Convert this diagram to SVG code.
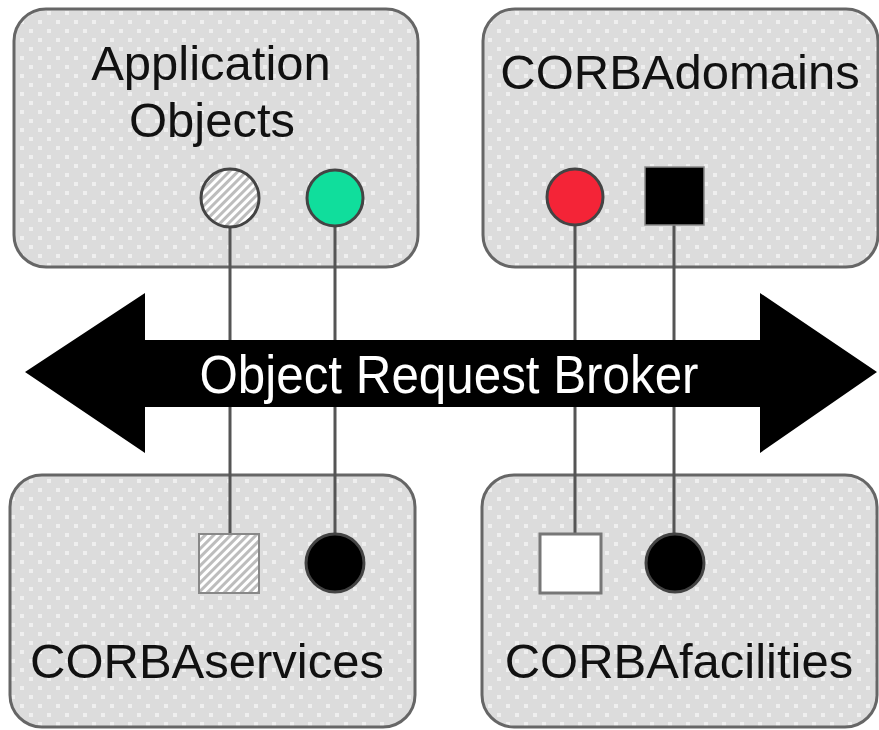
<svg xmlns="http://www.w3.org/2000/svg" width="879" height="730" viewBox="0 0 879 730">
  <defs>
    <!-- light stipple used inside the rounded panels -->
    <pattern id="stipple" width="18" height="18" patternUnits="userSpaceOnUse">
      <rect width="18" height="18" fill="#dcdcdc"/>
      <rect x="2" y="2" width="4" height="4" fill="#efefef"/>
      <rect x="11" y="11" width="4" height="4" fill="#efefef"/>
    </pattern>
    <!-- fine diagonal hatch -->
    <pattern id="hatch" width="6" height="6" patternUnits="userSpaceOnUse" patternTransform="rotate(45)">
      <rect width="6" height="6" fill="#ffffff"/>
      <rect width="3" height="6" fill="#bdbdbd"/>
    </pattern>
    <style>
      .panel { fill: url(#stipple); stroke: #666; stroke-width: 3; }
      .label { font-family: "Liberation Sans", Arial, sans-serif; font-size: 49px; fill: #111; text-anchor: middle; }
      .orb { font-family: "Liberation Sans", Arial, sans-serif; font-size: 53px; fill: #fff; text-anchor: middle; }
      .link { stroke: #555; stroke-width: 3; fill: none; }
      .port { stroke: #444; stroke-width: 3; }
    </style>
  </defs>

  <rect width="879" height="730" fill="#ffffff"/>

  <!-- panels -->
  <g id="application-objects">
    <rect class="panel" x="14" y="9" width="404" height="258" rx="32" ry="32"/>
    <text class="label" x="211" y="80">Application</text>
    <text class="label" x="212" y="137">Objects</text>
  </g>
  <g id="corba-domains">
    <rect class="panel" x="483" y="9" width="395" height="258" rx="32" ry="32"/>
    <text class="label" x="680" y="89">CORBAdomains</text>
  </g>
  <g id="corba-services">
    <rect class="panel" x="10" y="475" width="405" height="252" rx="32" ry="32"/>
    <text class="label" x="207" y="678">CORBAservices</text>
  </g>
  <g id="corba-facilities">
    <rect class="panel" x="482" y="475" width="395" height="252" rx="32" ry="32"/>
    <text class="label" x="679" y="678">CORBAfacilities</text>
  </g>

  <!-- connectors (drawn under the bus) -->
  <g id="connectors">
    <line class="link" x1="230" y1="226" x2="230" y2="533"/>
    <line class="link" x1="335" y1="226" x2="335" y2="533"/>
    <line class="link" x1="575" y1="226" x2="575" y2="533"/>
    <line class="link" x1="674" y1="225" x2="674" y2="533"/>
  </g>

  <!-- bus arrow -->
  <g id="object-request-broker">
    <polygon points="25,372 145,293 145,340 760,340 760,293 877,372 760,453 760,407 145,407 145,453" fill="#000"/>
    <text class="orb" x="449" y="393" textLength="499" lengthAdjust="spacingAndGlyphs">Object Request Broker</text>
  </g>

  <!-- ports -->
  <g id="port-hatched-circle"><circle class="port" cx="230" cy="198" r="29" fill="url(#hatch)" stroke="#555"/></g>
  <g id="port-green-circle"><circle class="port" cx="335" cy="198" r="28" fill="#10de9c"/></g>
  <g id="port-red-circle"><circle class="port" cx="575" cy="197" r="28" fill="#f42437"/></g>
  <g id="port-black-square"><rect x="645" y="167" width="59" height="58" fill="#000" stroke="#888" stroke-width="1.5"/></g>
  <g id="port-hatched-square"><rect x="199" y="534" width="60" height="59" fill="url(#hatch)" stroke="#888" stroke-width="2"/></g>
  <g id="port-black-circle-left"><circle class="port" cx="335" cy="563" r="29" fill="#000"/></g>
  <g id="port-white-square"><rect x="540" y="534" width="61" height="59" fill="#fff" stroke="#777" stroke-width="3"/></g>
  <g id="port-black-circle-right"><circle class="port" cx="675" cy="563" r="29" fill="#000"/></g>
</svg>
